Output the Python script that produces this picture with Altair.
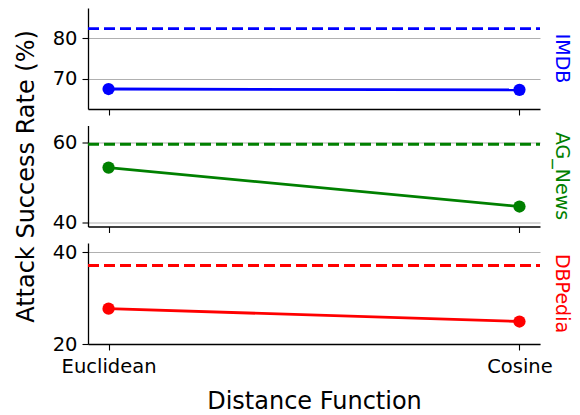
import altair as alt
import pandas as pd

distances = ["Euclidean", "Cosine"]
datasets = ["IMDB", "AG_News", "DBPedia"]
colors = ["#0000ff", "#008000", "#ff0000"]
imdb_asr = [67.45, 67.25]
agnews_asr = [53.75, 44.0]
dbpedia_asr = [27.7, 24.9]
baselines = [82.4, 59.6, 37.1]
y_domains = [[62.5, 87.5], [39.0, 64.3], [20.0, 42.0]]
y_ticks = [[70, 80], [40, 60], [20, 40]]

series = [imdb_asr, agnews_asr, dbpedia_asr]
W, H = 452, 101
FONT = "DejaVu Sans"

panels = []
for i, name in enumerate(datasets):
    df = pd.DataFrame({"distance": distances, "asr": series[i]})
    base_df = pd.DataFrame({"asr": [baselines[i]]})
    lab_df = pd.DataFrame({"label": [name]})
    last = i == len(datasets) - 1
    mid = i == 1
    x_enc = alt.X(
        "distance:N",
        sort=distances,
        scale=alt.Scale(type="point", padding=0.05),
        axis=alt.Axis(
            title="Distance Function" if last else None,
            labels=last,
            labelAngle=0,
            labelFontSize=19.5,
            labelFont=FONT,
            labelColor="black",
            titleFontSize=24,
            titleFont=FONT,
            titleFontWeight="normal",
            titleColor="black",
            titlePadding=14,
            tickSize=6,
            tickColor="black",
            tickWidth=1.1,
            domainColor="black",
            domainWidth=1.3,
            labelPadding=7,
            grid=False,
        ),
    )
    y_scale = alt.Scale(domain=y_domains[i], nice=False, zero=False)
    y_axis = alt.Axis(
        title="Attack Success Rate (%)" if mid else None,
        values=y_ticks[i],
        labelFontSize=19.5,
        labelFont=FONT,
        labelColor="black",
        titleFontSize=24,
        titleFont=FONT,
        titleFontWeight="normal",
        titleColor="black",
        titlePadding=14,
        tickSize=6,
        tickColor="black",
        tickWidth=1.1,
        domainColor="black",
        domainWidth=1.3,
        labelPadding=5,
        grid=True,
        gridColor="#b0b0b0",
        gridWidth=1.1,
    )
    line = alt.Chart(df).mark_line(color=colors[i], strokeWidth=2.8).encode(
        x=x_enc, y=alt.Y("asr:Q", scale=y_scale, axis=y_axis)
    )
    pts = alt.Chart(df).mark_circle(color=colors[i], size=150, opacity=1).encode(
        x=alt.X("distance:N", sort=distances), y="asr:Q"
    )
    dash = alt.Chart(base_df).mark_rule(
        color=colors[i], strokeWidth=2.8, strokeDash=[11, 5]
    ).encode(y="asr:Q", x=alt.value(0), x2=alt.value(W))
    lab = alt.Chart(lab_df).mark_text(
        color=colors[i], fontSize=19, font=FONT, angle=90, align="center", baseline="middle"
    ).encode(text="label:N", x=alt.value(W + 22), y=alt.value(H / 2))
    panel = alt.layer(line, dash, pts, lab).properties(width=W, height=H)
    panels.append(panel)

chart = (
    alt.vconcat(*panels, spacing=16.5, bounds="flush")
    .properties(padding={"left": 14, "top": 8, "right": 5, "bottom": 5})
    .configure_view(strokeWidth=0, stroke="transparent")
)

chart.save("out.html", embed_options={"renderer": "svg", "actions": False})
